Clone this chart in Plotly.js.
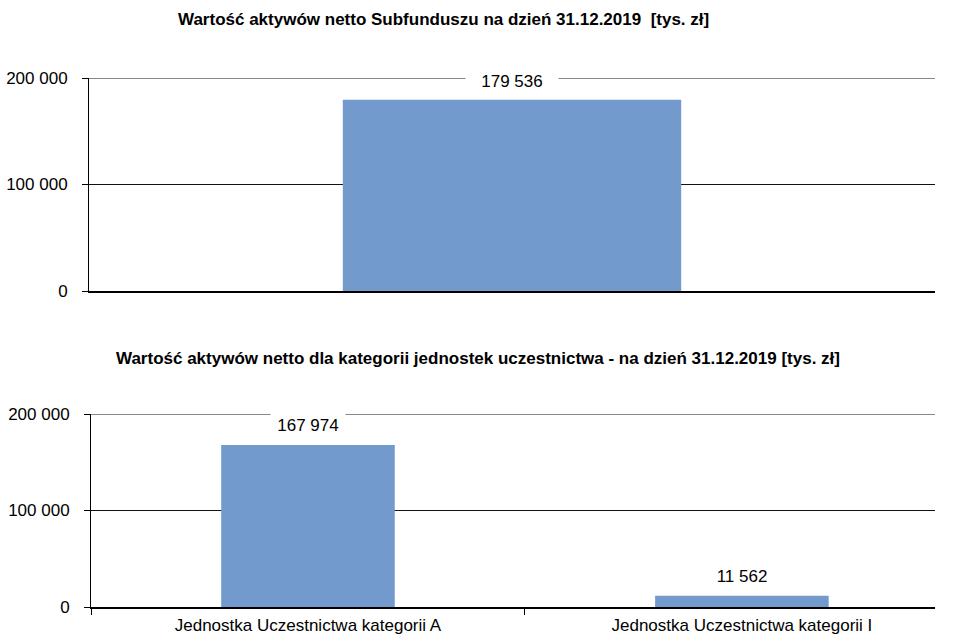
<!DOCTYPE html>
<html>
<head>
<meta charset="utf-8">
<script src="https://cdn.plot.ly/plotly-3.0.1.min.js"></script>
<style>html,body{margin:0;padding:0;background:#fff;}#chart{width:954px;height:637px;}</style>
</head>
<body>
<div id="chart"></div>
<script>
const topTitle = "Wartość aktywów netto Subfunduszu na dzień 31.12.2019  [tys. zł]";
const bottomTitle = "Wartość aktywów netto dla kategorii jednostek uczestnictwa - na dzień 31.12.2019 [tys. zł]";
const topCategories = ["Subfundusz"];
const topValues = [179536];
const bottomCategories = ["Jednostka Uczestnictwa kategorii A", "Jednostka Uczestnictwa kategorii I"];
const bottomValues = [167974, 11562];
const yTickVals = [0, 100000, 200000];
const yMax = 200000;

const barColor = "#729acd";
const tickFont = {family: "Liberation Sans, Arial, sans-serif", size: 17, color: "#000"};
const fmt = v => String(v).replace(/\B(?=(\d{3})+(?!\d))/g, " ");

const traces = [
  {type: "bar", x: topCategories, y: topValues, xaxis: "x", yaxis: "y",
   marker: {color: barColor}, hoverinfo: "none"},
  {type: "bar", x: bottomCategories, y: bottomValues, xaxis: "x2", yaxis: "y2",
   marker: {color: barColor}, hoverinfo: "none"}
];

const annotations = [];
topCategories.forEach((c, i) => annotations.push({
  x: c, y: topValues[i], xref: "x", yref: "y", text: fmt(topValues[i]),
  showarrow: false, yanchor: "middle", yshift: 18, bgcolor: "#fff", borderpad: 2, width: 88,
  font: tickFont
}));
bottomCategories.forEach((c, i) => annotations.push({
  x: c, y: bottomValues[i], xref: "x2", yref: "y2", text: fmt(bottomValues[i]),
  showarrow: false, yanchor: "middle", yshift: 19, bgcolor: "#fff", borderpad: 2, width: 70,
  font: tickFont
}));
const titleFont = {family: "Liberation Sans, Arial, sans-serif", size: 17, color: "#000", weight: "bold"};
annotations.push({text: topTitle, xref: "paper", yref: "paper", x: 443/954, y: 1 - 20/637,
  xanchor: "center", yanchor: "middle", showarrow: false, font: titleFont});
annotations.push({text: bottomTitle, xref: "paper", yref: "paper", x: 478/954, y: 1 - 358/637,
  xanchor: "center", yanchor: "middle", showarrow: false, font: titleFont});

// top gridline at the range end (Plotly omits the gridline on the plot edge)
const shapes = [
  {type: "line", xref: "x domain", yref: "y", x0: 0, x1: 1, y0: yMax, y1: yMax,
   line: {color: "#111", width: 1}, layer: "below"},
  {type: "line", xref: "x2 domain", yref: "y2", x0: 0, x1: 1, y0: yMax, y1: yMax,
   line: {color: "#111", width: 1}, layer: "below"}
];

const yaxisBase = {
  range: [0, yMax], tickvals: yTickVals, tickformat: ",d",
  showgrid: true, gridcolor: "#111", gridwidth: 1, zeroline: false,
  showline: true, linecolor: "#000", linewidth: 1,
  ticks: "outside", ticklen: 6, tickcolor: "#000", tickfont: tickFont,
  ticklabelstandoff: 11,
  automargin: false, fixedrange: true
};

const layout = {
  width: 954, height: 637,
  margin: {l: 0, r: 0, t: 0, b: 0},
  paper_bgcolor: "#fff", plot_bgcolor: "#fff",
  separators: ", ",
  showlegend: false,
  bargap: 0.6,
  xaxis: {domain: [89/954, 935/954], range: [-0.5, 0.5], type: "category",
    showticklabels: false, ticks: "", showline: true, linecolor: "#000", linewidth: 2,
    showgrid: false, zeroline: false, anchor: "y", automargin: false, fixedrange: true},
  yaxis: Object.assign({}, yaxisBase, {domain: [1 - 291/637, 1 - 78/637], anchor: "x"}),
  xaxis2: {domain: [91/954, 935/954], range: [-0.5, 1.445], type: "category",
    tickson: "boundaries", ticks: "outside", ticklen: 6, tickcolor: "#000",
    showline: true, linecolor: "#000", linewidth: 2,
    showgrid: false, zeroline: false, anchor: "y2", automargin: false, fixedrange: true,
    ticklabelstandoff: 2,
    tickfont: {family: "Liberation Sans, Arial, sans-serif", size: 17, color: "#000"}},
  yaxis2: Object.assign({}, yaxisBase, {domain: [1 - 607/637, 1 - 414/637], anchor: "x2"}),
  shapes: shapes,
  annotations: annotations
};

Plotly.newPlot("chart", traces, layout, {displayModeBar: false, staticPlot: true});
</script>
</body>
</html>
